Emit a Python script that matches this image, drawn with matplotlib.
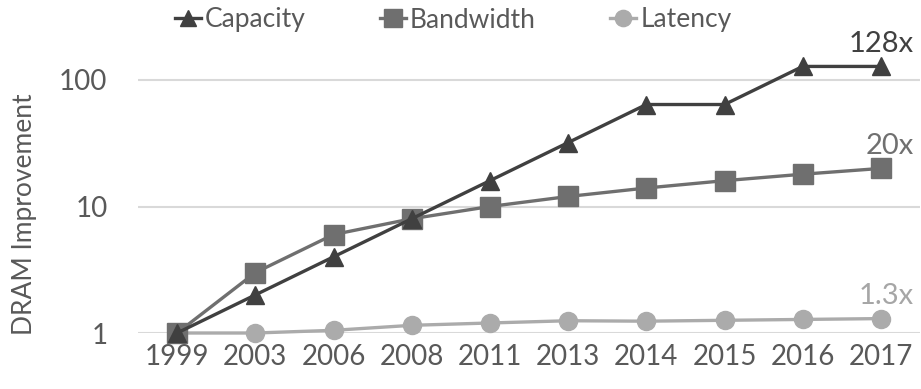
import matplotlib
matplotlib.use("Agg")
import matplotlib.pyplot as plt
import numpy as np

years = ["1999", "2003", "2006", "2008", "2011", "2013", "2014", "2015", "2016", "2017"]
capacity = [1, 2, 4, 8, 16, 32, 64, 64, 128, 128]
bandwidth = [1, 3, 6, 8, 10, 12, 14, 16, 18, 20]
latency = [1, 1.0, 1.05, 1.15, 1.2, 1.25, 1.24, 1.26, 1.28, 1.3]

end_labels = ["128x", "20x", "1.3x"]

plt.rcParams["font.family"] = ["Lato", "DejaVu Sans"]
text_color = "#595959"

fig = plt.figure(figsize=(9.21, 3.89), dpi=100)
W, H = 921, 389
ax = fig.add_axes([138 / W, (H - 333) / H, (920 - 138) / W, 333 / H])

x = np.arange(len(years))
c_cap, c_bw, c_lat = "#404040", "#6f6f6f", "#ababab"

ax.plot(x, latency, color=c_lat, lw=2.4, marker="o", ms=13, mec=c_lat,
        label="Latency", clip_on=False, zorder=3)
ax.plot(x, bandwidth, color=c_bw, lw=2.4, marker="s", ms=14, mec=c_bw,
        label="Bandwidth", clip_on=False, zorder=4)
ax.plot(x, capacity, color=c_cap, lw=2.4, marker="^", ms=13, mec=c_cap,
        label="Capacity", clip_on=False, zorder=5)

ax.set_yscale("log")
ax.set_ylim(1, 10 ** (333 / 126.5))
ax.set_xlim(-0.5, len(years) - 0.5)
ax.set_yticks([1, 10, 100])
ax.set_yticklabels(["1", "10", "100"])
ax.yaxis.set_minor_locator(matplotlib.ticker.NullLocator())
ax.set_xticks(x)
ax.set_xticklabels(years)
ax.tick_params(axis="both", length=0, labelsize=20, colors=text_color)
ax.tick_params(axis="x", pad=8)
ax.tick_params(axis="y", pad=22)
for s in ax.spines.values():
    s.set_visible(False)
for v in [1, 10, 100]:
    ax.axhline(v, color="#d9d9d9", lw=1.5, zorder=1)

ax.set_ylabel("DRAM Improvement", fontsize=19, color=text_color)
ax.yaxis.set_label_coords((37 - 138) / 782, (333 - 214) / 333)

# values at the right end of each series
ends = [(capacity[-1], "#404040", end_labels[0]),
        (bandwidth[-1], "#707070", end_labels[1]),
        (latency[-1], "#a6a6a6", end_labels[2])]
for val, col, lab in ends:
    ax.annotate(lab, (x[-1], val), xytext=(24, 16), textcoords="offset points",
                ha="right", va="center", fontsize=21, color=col)

handles, labels = ax.get_legend_handles_labels()
order = [2, 1, 0]
fig.legend([handles[i] for i in order], [labels[i] for i in order],
           loc="center", bbox_to_anchor=(453 / W, 1 - 20 / H), ncol=3,
           frameon=False, fontsize=19, handlelength=1.0, handletextpad=0.15,
           columnspacing=2.8, labelcolor=text_color, markerscale=0.9)

fig.savefig("out.png", dpi=100)
